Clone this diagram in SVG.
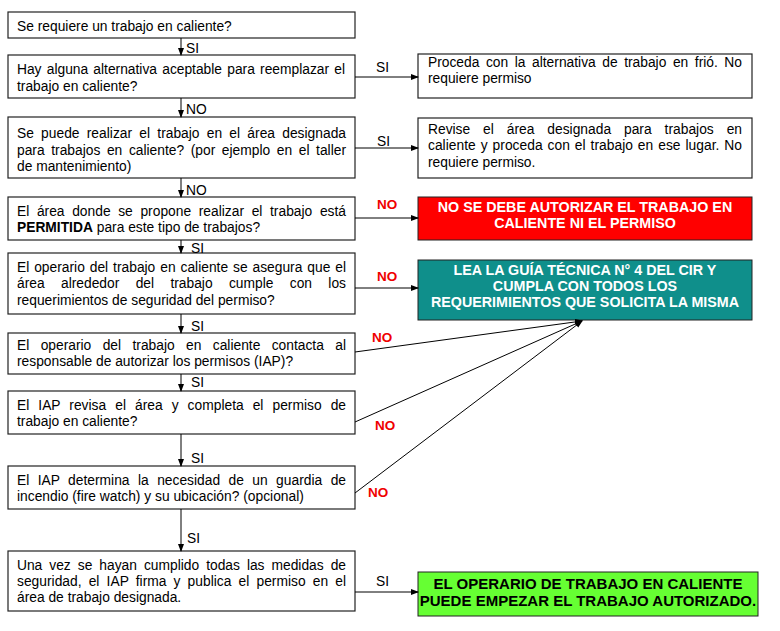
<svg xmlns="http://www.w3.org/2000/svg" width="780" height="631" viewBox="0 0 780 631">
<defs>
<marker id="ah" markerWidth="8" markerHeight="8" refX="7" refY="4" orient="auto" markerUnits="userSpaceOnUse">
<path d="M0,1 L8,4 L0,7 Z" fill="#000"/>
</marker>
<style>
text{font-family:"Liberation Sans",Arial,sans-serif;font-size:13.8px;fill:#000}
.box{fill:#fff;stroke:#222;stroke-width:1.2}
.b{font-weight:bold}
.w{fill:#fff;font-weight:bold;text-anchor:middle;font-size:14.3px}
.k{font-weight:bold;text-anchor:middle;font-size:15px}
.no{fill:#f00000;font-weight:bold;font-size:13.5px}
.c line{stroke:#000;stroke-width:1;marker-end:url(#ah)}
</style>
</defs>
<rect width="780" height="631" fill="#fff"/>

<g id="n1"><rect class="box" x="8" y="12" width="347" height="26"/>
<text x="17" y="31">Se requiere un trabajo en caliente?</text></g>

<g id="n2"><rect class="box" x="8" y="55" width="347" height="43"/>
<text x="17" y="74" word-spacing="1.4" textLength="328" lengthAdjust="spacing">Hay alguna alternativa aceptable para reemplazar el</text>
<text x="17" y="91">trabajo en caliente?</text></g>

<g id="n3"><rect class="box" x="8" y="117" width="347" height="61"/>
<text x="17" y="138" word-spacing="3.4" textLength="329" lengthAdjust="spacing">Se puede realizar el trabajo en el área designada</text>
<text x="17" y="155" word-spacing="2.8" textLength="329" lengthAdjust="spacing">para trabajos en caliente? (por ejemplo en el taller</text>
<text x="17" y="171">de mantenimiento)</text></g>

<g id="n4"><rect class="box" x="8" y="197" width="347" height="43"/>
<text x="17" y="216" word-spacing="3.8" textLength="329" lengthAdjust="spacing">El área donde se propone realizar el trabajo está</text>
<text x="17" y="232"><tspan class="b">PERMITIDA</tspan> para este tipo de trabajos?</text></g>

<g id="n5"><rect class="box" x="8" y="253" width="347" height="61"/>
<text x="17" y="272" word-spacing="1.1" textLength="329" lengthAdjust="spacing">El operario del trabajo en caliente se asegura que el</text>
<text x="17" y="288" word-spacing="12.5" textLength="329" lengthAdjust="spacing">área alrededor del trabajo cumple con los</text>
<text x="17" y="305">requerimientos de seguridad del permiso?</text></g>

<g id="n6"><rect class="box" x="8" y="333" width="347" height="41"/>
<text x="17" y="350" word-spacing="7.6" textLength="329" lengthAdjust="spacing">El operario del trabajo en caliente contacta al</text>
<text x="17" y="366">responsable de autorizar los permisos (IAP)?</text></g>

<g id="n7"><rect class="box" x="8" y="391" width="347" height="43"/>
<text x="17" y="410" word-spacing="5.2" textLength="329" lengthAdjust="spacing">El IAP revisa el área y completa el permiso de</text>
<text x="17" y="426">trabajo en caliente?</text></g>

<g id="n8"><rect class="box" x="8" y="466" width="347" height="43"/>
<text x="17" y="485" word-spacing="4.6" textLength="329" lengthAdjust="spacing">El IAP determina la necesidad de un guardia de</text>
<text x="17" y="501">incendio (fire watch) y su ubicación? (opcional)</text></g>

<g id="n9"><rect class="box" x="8" y="551" width="347" height="60"/>
<text x="17" y="570" word-spacing="3.2" textLength="329" lengthAdjust="spacing">Una vez se hayan cumplido todas las medidas de</text>
<text x="17" y="586" word-spacing="3.3" textLength="329" lengthAdjust="spacing">seguridad, el IAP firma y publica el permiso en el</text>
<text x="17" y="602">área de trabajo designada.</text></g>

<g id="rA"><rect class="box" x="418" y="54" width="334" height="44"/>
<text x="428" y="67" word-spacing="2.7" textLength="314" lengthAdjust="spacing">Proceda con la alternativa de trabajo en frió. No</text>
<text x="428" y="83">requiere permiso</text></g>

<g id="rB"><rect class="box" x="418" y="118" width="334" height="60"/>
<text x="428" y="134" word-spacing="9.1" textLength="314" lengthAdjust="spacing">Revise el área designada para trabajos en</text>
<text x="428" y="150" word-spacing="1.1" textLength="314" lengthAdjust="spacing">caliente y proceda con el trabajo en ese lugar. No</text>
<text x="428" y="167">requiere permiso.</text></g>

<g id="rRed"><rect x="418" y="197" width="334" height="43" fill="#ff0000" stroke="#222" stroke-width="1"/>
<text class="w" x="585" y="212">NO SE DEBE AUTORIZAR EL TRABAJO EN</text>
<text class="w" x="585" y="228">CALIENTE NI EL PERMISO</text></g>

<g id="rTeal"><rect x="418" y="260" width="334" height="60" fill="#0f8f8b" stroke="#222" stroke-width="1"/>
<text class="w" x="585" y="275">LEA LA GUÍA TÉCNICA N° 4 DEL CIR Y</text>
<text class="w" x="585" y="291">CUMPLA CON TODOS LOS</text>
<text class="w" x="585" y="307">REQUERIMIENTOS QUE SOLICITA LA MISMA</text></g>

<g id="rGreen"><rect x="418" y="572" width="340" height="44" fill="#66ff33" stroke="#222" stroke-width="1"/>
<text class="k" x="588" y="589">EL OPERARIO DE TRABAJO EN CALIENTE</text>
<text class="k" x="588" y="606">PUEDE EMPEZAR EL TRABAJO AUTORIZADO.</text></g>

<g id="connectors" class="c">
<line x1="181" y1="38" x2="181" y2="55"/>
<line x1="181" y1="98" x2="181" y2="117"/>
<line x1="181" y1="178" x2="181" y2="197"/>
<line x1="181" y1="240" x2="181" y2="253"/>
<line x1="181" y1="314" x2="181" y2="333"/>
<line x1="181" y1="374" x2="181" y2="391"/>
<line x1="181" y1="434" x2="181" y2="466"/>
<line x1="181" y1="509" x2="181" y2="551"/>
<line x1="355" y1="77" x2="418" y2="77"/>
<line x1="355" y1="148" x2="418" y2="148"/>
<line x1="355" y1="218" x2="418" y2="218"/>
<line x1="355" y1="288" x2="418" y2="288"/>
<line x1="355" y1="352" x2="582" y2="321"/>
<line x1="355" y1="422" x2="582" y2="321"/>
<line x1="355" y1="493" x2="582" y2="321"/>
<line x1="355" y1="592" x2="418" y2="592"/>
</g>

<g id="labels">
<text x="186" y="53">SI</text>
<text x="186" y="114">NO</text>
<text x="186" y="195">NO</text>
<text x="191" y="253">SI</text>
<text x="191" y="331">SI</text>
<text x="191" y="387">SI</text>
<text x="191" y="463">SI</text>
<text x="187" y="543">SI</text>
<text x="376" y="72">SI</text>
<text x="377" y="146">SI</text>
<text x="376" y="586">SI</text>
<text class="no" x="377" y="209">NO</text>
<text class="no" x="377" y="281">NO</text>
<text class="no" x="372" y="342">NO</text>
<text class="no" x="375" y="430">NO</text>
<text class="no" x="368" y="497">NO</text>
</g>
</svg>
